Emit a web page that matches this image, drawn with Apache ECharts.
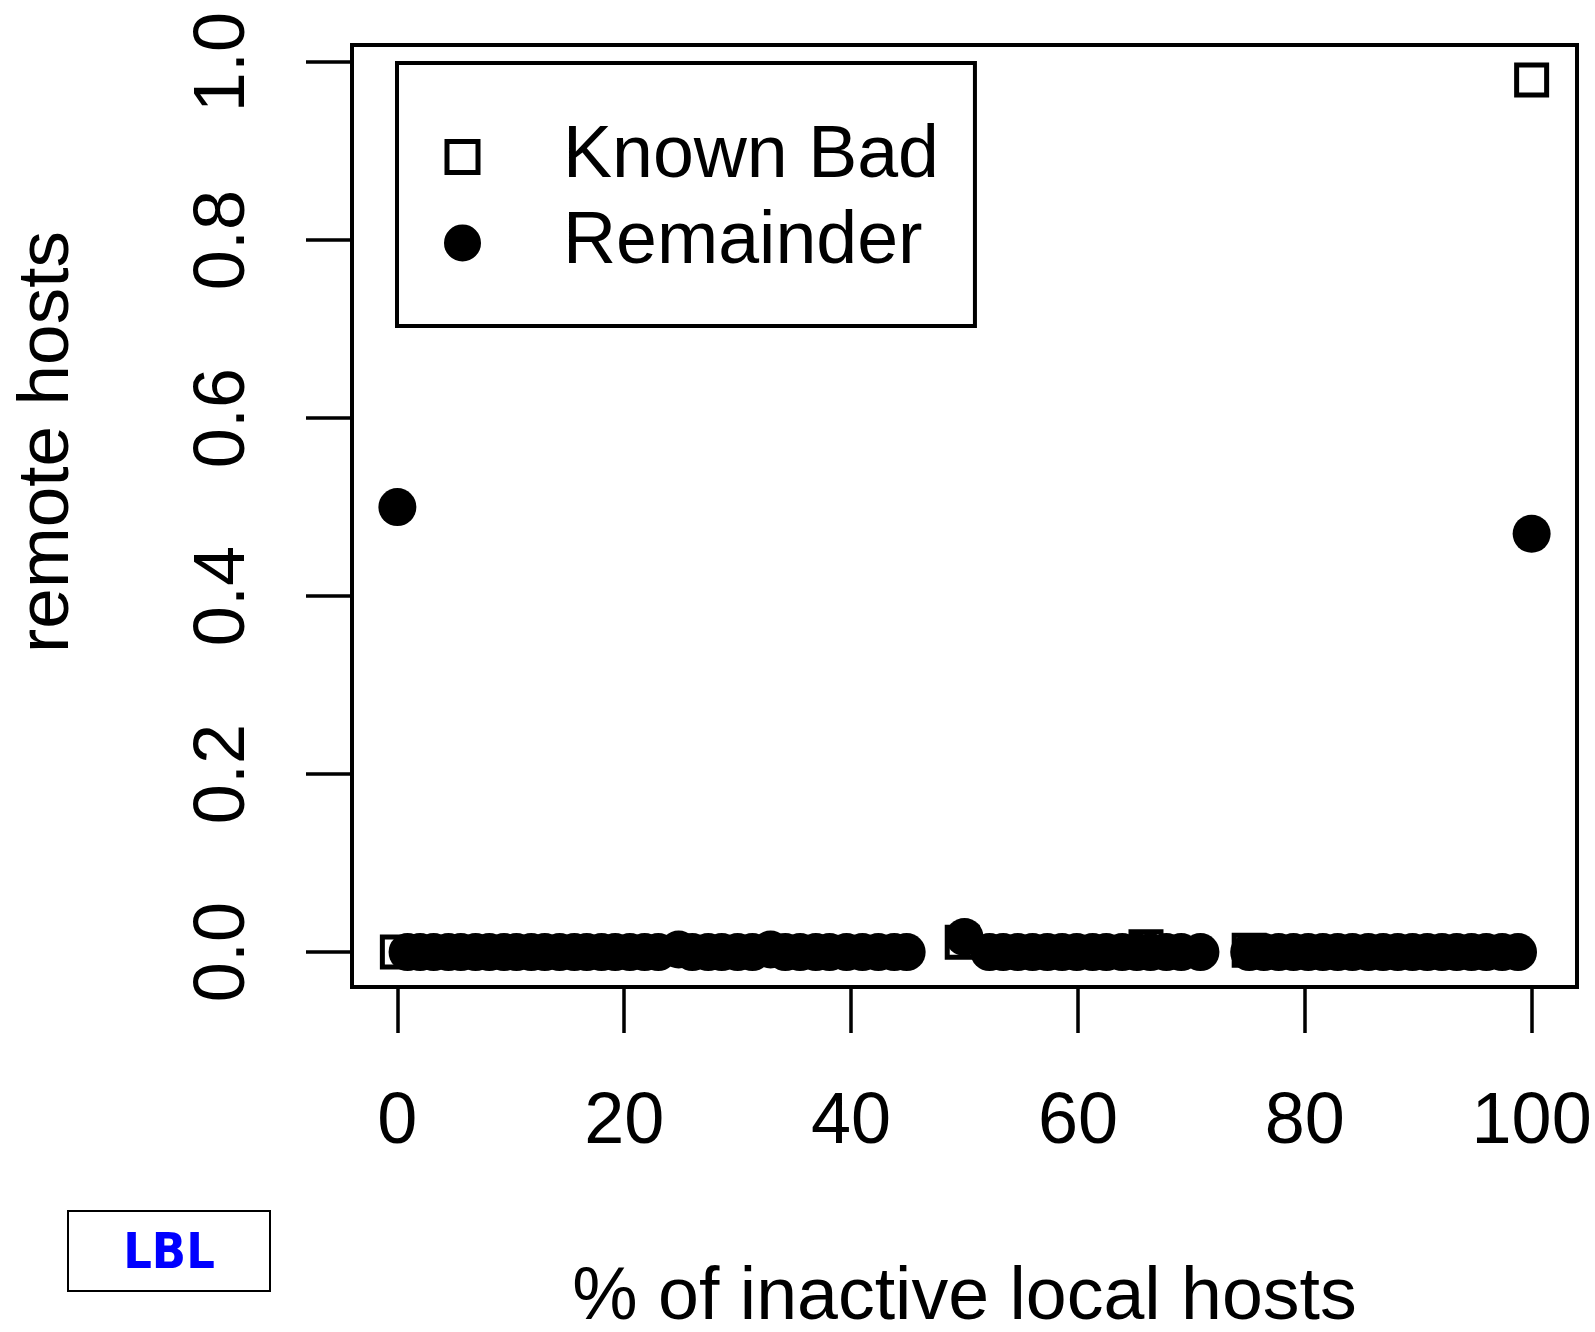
<!DOCTYPE html>
<html>
<head>
<meta charset="utf-8">
<script src="https://cdn.jsdelivr.net/npm/echarts@6/dist/echarts.min.js"></script>
<style>
html,body{margin:0;padding:0;background:#fff;}
#chart{width:1595px;height:1332px;}
</style>
</head>
<body>
<div id="chart"></div>
<script>
// ---- data ----
var xTicks = [0, 20, 40, 60, 80, 100];
var yTicks = [0, 0.2, 0.4, 0.6, 0.8, 1.0];

var knownBadX = [0, 49.8, 66.0, 75.1, 100];
var knownBadY = [0, 0.011, 0.006, 0.002, 0.98];

var remainderX = [
  0.9, 2.0, 3.2, 4.5, 5.6, 6.9, 8.1, 9.4, 10.5, 11.8, 13.0, 14.3, 15.6, 16.7, 18.0, 19.2,
  20.5, 21.8, 23.0, 24.8, 26.0, 27.4, 28.6, 30.0, 31.3, 32.9, 34.2, 35.5, 36.9, 38.1, 39.6,
  41.0, 42.4, 43.8, 44.9,
  50.0,
  52.2, 53.4, 54.7, 56.0, 57.3, 58.6, 59.9, 61.3, 62.5, 63.9, 65.2, 66.4, 67.8, 69.1, 70.8,
  75.1, 76.4, 77.7, 79.0, 80.3, 81.6, 82.9, 84.2, 85.6, 86.9, 88.2, 89.5, 90.8, 92.1, 93.4,
  94.7, 96.0, 97.4, 98.8,
  0, 100
];
var remainderY = [
  0, 0, 0, 0, 0, 0, 0, 0, 0, 0, 0, 0, 0, 0, 0, 0,
  0, 0, 0, 0.003, 0, 0, 0, 0, 0, 0.003, 0, 0, 0, 0, 0,
  0, 0, 0, 0,
  0.017,
  0, 0, 0, 0, 0, 0, 0, 0, 0, 0, 0, 0, 0, 0, 0,
  0, 0, 0, 0, 0, 0, 0, 0, 0, 0, 0, 0, 0, 0, 0,
  0, 0, 0, 0,
  0.5, 0.47
];

var seriesNames = ['Known Bad', 'Remainder'];
var xTitle = '% of inactive local hosts';
var yTitle = 'remote hosts';
var badgeText = 'LBL';

function zip(xs, ys) { return xs.map(function (x, i) { return [x, ys[i]]; }); }

var FONT = 'Liberation Sans';
var lineStyle = { color: '#000', width: 3.5 };

var chart = echarts.init(document.getElementById('chart'), null, { renderer: 'canvas' });
chart.setOption({
  animation: false,
  backgroundColor: '#fff',
  grid: {
    left: 352, top: 45, width: 1225, height: 942,
    show: true, borderColor: '#000', borderWidth: 4,
    containLabel: false, outerBoundsMode: 'none'
  },
  legend: {
    left: 397, top: 63, orient: 'vertical',
    padding: [51, 36, 40, 47], itemGap: 0,
    itemWidth: 31, itemHeight: 31,
    borderColor: '#000', borderWidth: 4, backgroundColor: '#fff',
    selectedMode: false,
    textStyle: { fontSize: 73.5, fontFamily: FONT, color: '#000', lineHeight: 86, padding: [0, 0, 0, 80] },
    data: [
      { name: seriesNames[0], itemStyle: { color: 'rgba(255,255,255,0)', borderColor: '#000', borderWidth: 5 } },
      { name: seriesNames[1], itemStyle: { color: '#000', borderColor: '#000', borderWidth: 6 } }
    ]
  },
  xAxis: {
    type: 'value', min: -4, max: 104,
    splitLine: { show: false },
    axisLine: { show: true, onZero: false, lineStyle: lineStyle },
    axisTick: { show: true, customValues: xTicks, length: 46, inside: false, lineStyle: lineStyle },
    axisLabel: { customValues: xTicks, margin: 100, fontSize: 72, fontFamily: FONT, color: '#000' },
    name: xTitle, nameLocation: 'middle', nameGap: 275,
    nameTextStyle: { fontSize: 73.5, fontFamily: FONT, color: '#000' }
  },
  yAxis: {
    type: 'value', min: -0.0392, max: 1.0192,
    splitLine: { show: false },
    axisLine: { show: true, onZero: false, lineStyle: lineStyle },
    axisTick: { show: true, customValues: yTicks, length: 46, inside: false, lineStyle: lineStyle },
    axisLabel: {
      customValues: yTicks, rotate: 90, margin: 92, fontSize: 72, fontFamily: FONT, color: '#000',
      formatter: function (v) { return v.toFixed(1); }
    },
    name: yTitle, nameLocation: 'middle', nameGap: 268,
    nameTextStyle: { fontSize: 73, fontFamily: FONT, color: '#000', padding: [0, 0, 0, 148] }
  },
  series: [
    {
      name: seriesNames[0], type: 'scatter', symbol: 'rect', symbolSize: 30,
      itemStyle: { color: 'rgba(255,255,255,0)', borderColor: '#000', borderWidth: 5, opacity: 1 },
      data: zip(knownBadX, knownBadY), z: 2
    },
    {
      name: seriesNames[1], type: 'scatter', symbol: 'circle', symbolSize: 38,
      itemStyle: { color: '#000', opacity: 1 },
      data: zip(remainderX, remainderY), z: 3
    }
  ],
  graphic: [
    {
      type: 'group', left: 67, top: 1210,
      children: [
        { type: 'rect', shape: { x: 0, y: 0, width: 202, height: 80 }, style: { fill: '#fff', stroke: '#000', lineWidth: 2 } },
        { type: 'text', x: 101, y: 44, style: { text: badgeText, fill: '#0000ff', fontSize: 50, fontWeight: 'bold', fontFamily: '"DejaVu Sans Condensed", "DejaVu Sans"', align: 'center', verticalAlign: 'middle' } }
      ]
    }
  ]
});
</script>
</body>
</html>
